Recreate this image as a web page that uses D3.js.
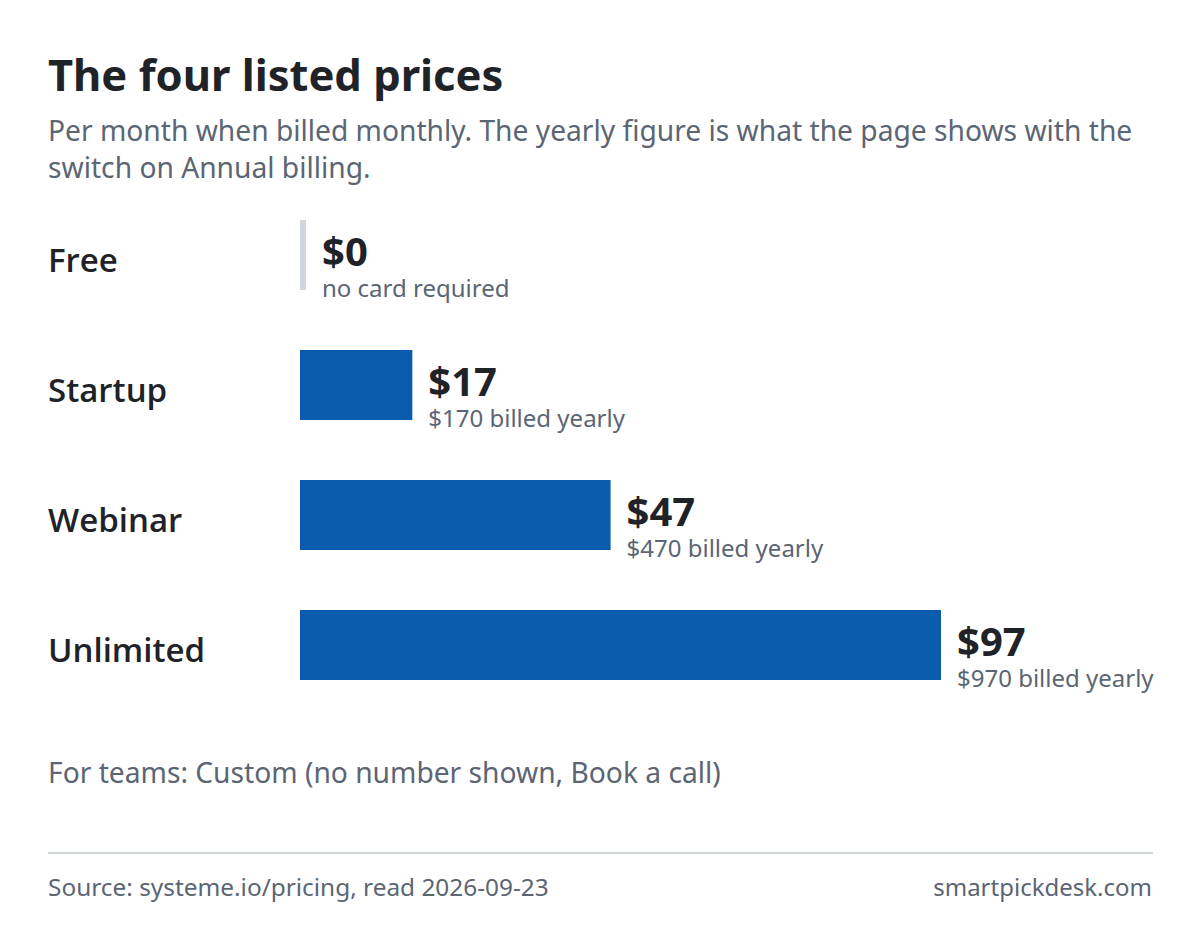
<!DOCTYPE html>
<html>
<head>
<meta charset="utf-8">
<script src="https://cdn.jsdelivr.net/npm/d3@7"></script>
<style>
  html, body { margin: 0; padding: 0; background: #fff; }
  svg { display: block; font-family: "Noto Sans", "Open Sans", sans-serif; }
</style>
</head>
<body>
<svg id="chart"></svg>
<script>
// Plans and prices as listed on the pricing page
const plans = ["Free", "Startup", "Webinar", "Unlimited"];
const monthlyPrice = [0, 17, 47, 97];
const priceNotes = ["no card required", "$170 billed yearly", "$470 billed yearly", "$970 billed yearly"];

const titleText = "The four listed prices";
const subtitleLines = [
    "Per month when billed monthly. The yearly figure is what the page shows with the",
    "switch on Annual billing."
];
const footNote = "For teams: Custom (no number shown, Book a call)";
const sourceText = "Source: systeme.io/pricing, read 2026-09-23";
const siteText = "smartpickdesk.com";

const W = 1200, H = 930;
const dark = "#1f2328", grey = "#5b6573", blue = "#0b5cad", light = "#d1d6dd";

const svg = d3.select("#chart").attr("width", W).attr("height", H);

// title + subtitle
svg.append("text")
    .attr("x", 48).attr("y", 91)
    .attr("font-size", 43.5).attr("font-weight", 700).attr("fill", dark)
    .text(titleText);

svg.append("g").selectAll("text")
    .data(subtitleLines)
    .enter().append("text")
    .attr("x", 48)
    .attr("y", (d, i) => 141 + i * 37)
    .attr("font-size", 28.2).attr("fill", grey)
    .text(d => d);

const rows = plans.map((p, i) => ({ plan: p, price: monthlyPrice[i], note: priceNotes[i] }));

const x = d3.scaleLinear()
    .domain([0, d3.max(monthlyPrice)])
    .range([300, 941]);

const y = d3.scaleBand()
    .domain(plans)
    .range([190, 710])
    .paddingInner(60 / 130)
    .paddingOuter(30 / 130);

const minW = 6;   // zero price still gets a thin grey stub
const barEnd = d => Math.max(x(d.price), x(0) + minW);

const row = svg.append("g").selectAll("g")
    .data(rows)
    .enter().append("g");

row.append("text")
    .attr("x", 48)
    .attr("y", d => y(d.plan) + y.bandwidth() / 2 + 17)
    .attr("font-family", "'Open Sans', 'Noto Sans', sans-serif")
    .attr("font-size", 33).attr("font-weight", 600).attr("fill", dark)
    .text(d => d.plan);

row.append("rect")
    .attr("x", x(0))
    .attr("y", d => y(d.plan))
    .attr("width", d => barEnd(d) - x(0))
    .attr("height", y.bandwidth())
    .attr("fill", d => d.price === 0 ? light : blue);

row.append("text")
    .attr("x", d => barEnd(d) + 16)
    .attr("y", d => y(d.plan) + y.bandwidth() / 2 + 11)
    .attr("font-size", 40).attr("font-weight", 700).attr("fill", dark)
    .text(d => "$" + d.price);

row.append("text")
    .attr("x", d => barEnd(d) + 16)
    .attr("y", d => y(d.plan) + y.bandwidth() / 2 + 42)
    .attr("font-size", 24).attr("fill", grey)
    .text(d => d.note);

// footer
svg.append("text")
    .attr("x", 48).attr("y", 783)
    .attr("font-size", 28.2).attr("fill", grey)
    .text(footNote);

svg.append("line")
    .attr("x1", 48).attr("x2", 1153)
    .attr("y1", 853).attr("y2", 853)
    .attr("stroke", light).attr("stroke-width", 2);

svg.append("text")
    .attr("x", 48).attr("y", 896)
    .attr("font-size", 24.4).attr("fill", grey)
    .text(sourceText);

svg.append("text")
    .attr("x", 1152).attr("y", 896)
    .attr("text-anchor", "end")
    .attr("font-size", 24).attr("fill", grey)
    .text(siteText);
</script>
</body>
</html>
